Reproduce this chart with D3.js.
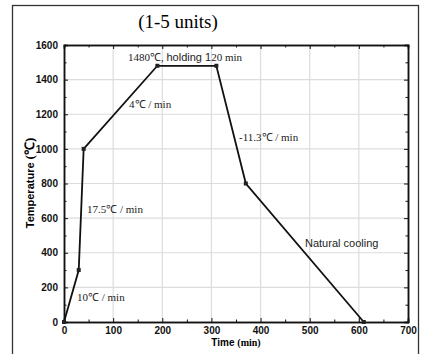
<!DOCTYPE html>
<html>
<head>
<meta charset="utf-8">
<script src="https://cdn.jsdelivr.net/npm/d3@7"></script>
<style>
  body { margin: 0; background: #fff; }
  svg { display: block; }
</style>
</head>
<body>
<div id="chart"></div>
<script>
// heating curve: time (min), temperature (C)
const times = [0, 30, 40, 190, 310, 370, 610]
const temps = [0, 300, 1000, 1480, 1480, 800, 0]
const xTicks = [0, 100, 200, 300, 400, 500, 600, 700]
const yTicks = [0, 200, 400, 600, 800, 1000, 1200, 1400, 1600]

init()

function init(){
    const W = 421, H = 354
    const m = {left: 64, right: 13, top: 45, bottom: 32}

    let svg = d3.select('#chart')
                .append('svg')
                .attr('width', W)
                .attr('height', H)

    // outer frame
    svg.append('rect')
        .attr('x', 12.5).attr('y', 5.5)
        .attr('width', 406).attr('height', 360)
        .style('fill', 'none')
        .style('stroke', '#333')
        .style('stroke-width', 1.3)

    const x = d3.scaleLinear().domain([0, 700]).range([m.left, W - m.right])
    const y = d3.scaleLinear().domain([0, 1600]).range([H - m.bottom, m.top])

    // grid
    svg.append('g').selectAll('line')
        .data(xTicks.slice(1, -1))
        .join('line')
        .attr('x1', d => x(d)).attr('x2', d => x(d))
        .attr('y1', y(0)).attr('y2', y(1600))
        .style('stroke', '#dcdcdc').style('stroke-width', 1.2)
    svg.append('g').selectAll('line')
        .data(yTicks.slice(1, -1))
        .join('line')
        .attr('x1', x(0)).attr('x2', x(700))
        .attr('y1', d => y(d)).attr('y2', d => y(d))
        .style('stroke', '#dcdcdc').style('stroke-width', 1.2)

    // axes, ticks pointing inward
    const minorX = d3.range(50, 700, 100)
    const minorY = d3.range(100, 1600, 200)
    const fmt = d3.format('d')

    const bottom = svg.append('g').attr('transform', `translate(0,${y(0)})`)
        .call(d3.axisBottom(x).tickValues(xTicks).tickFormat(fmt).tickSize(-4).tickPadding(5))
    bottom.append('g').call(d3.axisBottom(x).tickValues(minorX).tickSize(-2.5).tickFormat(''))
    const top = svg.append('g').attr('transform', `translate(0,${y(1600)})`)
        .call(d3.axisTop(x).tickValues(xTicks).tickSize(-4).tickFormat(''))
    top.append('g').call(d3.axisTop(x).tickValues(minorX).tickSize(-2.5).tickFormat(''))

    const left = svg.append('g').attr('transform', `translate(${x(0)},0)`)
        .call(d3.axisLeft(y).tickValues(yTicks).tickFormat(fmt).tickSize(-4).tickPadding(6))
    left.append('g').call(d3.axisLeft(y).tickValues(minorY).tickSize(-2.5).tickFormat(''))
    const right = svg.append('g').attr('transform', `translate(${x(700)},0)`)
        .call(d3.axisRight(y).tickValues(yTicks).tickSize(-4).tickFormat(''))
    right.append('g').call(d3.axisRight(y).tickValues(minorY).tickSize(-2.5).tickFormat(''))

    svg.selectAll('.domain').style('stroke', '#111').style('stroke-width', 1.5)
    svg.selectAll('.tick line').style('stroke', '#111')
    svg.selectAll('.tick text')
        .style('font-family', 'Liberation Sans, Arial, sans-serif')
        .style('font-weight', 'bold')
        .style('font-size', '10px')
        .style('fill', '#111')

    // curve
    const pts = times.map((t, i) => [t, temps[i]])
    svg.append('path')
        .datum(pts)
        .attr('d', d3.line().x(d => x(d[0])).y(d => y(d[1])))
        .style('fill', 'none')
        .style('stroke', '#111')
        .style('stroke-width', 1.8)

    svg.selectAll('rect.mk')
        .data(pts)
        .join('rect')
        .attr('class', 'mk')
        .attr('x', d => x(d[0]) - 2).attr('y', d => y(d[1]) - 2)
        .attr('width', 4).attr('height', 4)
        .style('fill', '#222')

    const serif = 'Liberation Serif, Times New Roman, serif'
    const sans = 'Liberation Sans, Arial, sans-serif'

    // title
    svg.append('text')
        .attr('x', 178).attr('y', 28)
        .attr('text-anchor', 'middle')
        .style('font-family', serif)
        .style('font-size', '19px')
        .text('(1-5 units)')

    // annotations
    function note(px, py, parts){
        let t = svg.append('text').attr('x', px).attr('y', py)
            .style('font-size', '11px').style('fill', '#222')
        parts.forEach(p => t.append('tspan').style('font-family', p[1]).text(p[0]))
    }
    note(128, 61, [['1480℃, ', serif], ['holding 1', sans], ['20 min', serif]])
    note(129, 108, [['4℃ / min', serif]])
    note(87, 213, [['17.5℃ / min', serif]])
    note(77, 301, [['10℃ / min', serif]])
    note(239, 141, [['-11.3℃ / min', serif]])
    note(305, 247, [['Natural cooling', sans]])

    // axis titles
    let xt = svg.append('text')
        .attr('x', 236).attr('y', 346)
        .attr('text-anchor', 'middle')
        .style('font-weight', 'bold').style('font-size', '10px')
    xt.append('tspan').style('font-family', sans).text('Time ')
    xt.append('tspan').style('font-family', serif).text('(min)')

    let yt = svg.append('text')
        .attr('transform', 'translate(34,183) rotate(-90)')
        .attr('text-anchor', 'middle')
        .style('font-weight', 'bold').style('font-size', '11px')
    yt.append('tspan').style('font-family', sans).text('Temperature ')
    yt.append('tspan').style('font-family', serif).style('font-size', '13px').text('(℃)')
}
</script>
</body>
</html>
